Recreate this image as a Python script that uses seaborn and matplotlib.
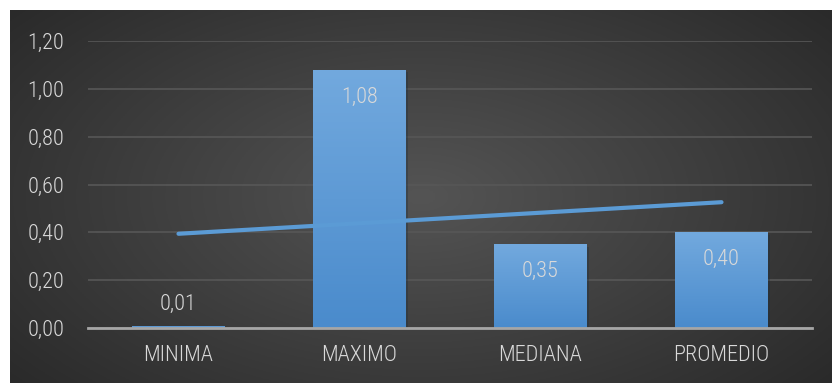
import numpy as np
import pandas as pd
import matplotlib
matplotlib.use("Agg")
import matplotlib.pyplot as plt
import matplotlib.patheffects as pe
from matplotlib import font_manager
import seaborn as sns

# data
categories = ["MINIMA", "MAXIMO", "MEDIANA", "PROMEDIO"]
values = [0.01, 1.08, 0.35, 0.40]
label_text = ["0,01", "1,08", "0,35", "0,40"]
yticks = [0.0, 0.2, 0.4, 0.6, 0.8, 1.0, 1.2]
ytick_labels = ["0,00", "0,20", "0,40", "0,60", "0,80", "1,00", "1,20"]

df = pd.DataFrame({"cat": categories, "val": values})

sns.set_theme(style="dark")

# prefer a narrow font if one is around, else plain Liberation Sans
font = "Liberation Sans"
fsize = 14
for name, size in [("Liberation Sans Narrow", 16), ("Roboto Condensed", 16),
                   ("DejaVu Sans Condensed", 13.5)]:
    try:
        font_manager.findfont(font_manager.FontProperties(family=name), fallback_to_default=False)
        font, fsize = name, size
        break
    except ValueError:
        pass
plt.rcParams["font.family"] = [font, "DejaVu Sans"]
plt.rcParams["font.weight"] = "light"

W, H = 832, 383
fig = plt.figure(figsize=(W / 100, H / 100), dpi=100, facecolor="white")

# dark radial background panel
bg = fig.add_axes([10 / W, 0, 1 - 10 / W, 1 - 10 / H])
bg.axis("off")
yy, xx = np.mgrid[0:1:200j, 0:1:400j]
r = np.sqrt(((xx - 0.5) / 0.75) ** 2 + ((yy - 0.5) / 0.9) ** 2)
shade = np.clip(0.33 - 0.19 * r, 0.13, 0.33)
bg.imshow(np.dstack([shade] * 3), extent=[0, 1, 0, 1], aspect="auto")
bg.set_xlim(0, 1)
bg.set_ylim(0, 1)

ax = fig.add_axes([88 / W, (H - 328) / H, (812 - 88) / W, (328 - 41) / H])
ax.patch.set_alpha(0)

sns.barplot(data=df, x="cat", y="val", color="#5b9bd5", width=0.51, ax=ax,
            saturation=1, linewidth=0, edgecolor="none", zorder=3)

# vertical gradient on each bar, plus a faint shadow
grad = np.linspace(0, 1, 100).reshape(-1, 1)
cmap = matplotlib.colors.LinearSegmentedColormap.from_list("b", ["#4a8bcc", "#72a9de"])
for p in ax.patches:
    p.set_path_effects([pe.SimplePatchShadow(offset=(2, -2), alpha=0.35), pe.Normal()])
    x0, w, h = p.get_x(), p.get_width(), p.get_height()
    im = ax.imshow(grad, cmap=cmap, origin="lower", aspect="auto",
                   extent=[x0, x0 + w, 0, h], zorder=3.5)
    im.set_clip_path(p)

# linear trend line
sns.regplot(x=np.arange(len(values)), y=values, scatter=False, ci=None,
            truncate=True, ax=ax, line_kws={"color": "#5b9bd5", "lw": 3, "zorder": 5})

# value labels
for i, (v, t) in enumerate(zip(values, label_text)):
    if v > 0.1:
        ax.text(i, v - 0.115, t, ha="center", va="center", color="#d9d9d9", fontsize=fsize, zorder=6)
    else:
        ax.text(i, v + 0.09, t, ha="center", va="center", color="#d9d9d9", fontsize=fsize, zorder=6)

ax.set_xlim(-0.5, 3.5)
ax.set_ylim(0, 1.2)
ax.set_yticks(yticks)
ax.set_yticklabels(ytick_labels)
ax.grid(axis="y", color="#575757", lw=1.2, zorder=0)
ax.grid(axis="x", visible=False)
ax.set_xlabel("")
ax.set_ylabel("")
for s in ["top", "right", "left"]:
    ax.spines[s].set_visible(False)
ax.spines["bottom"].set_color("#a6a6a6")
ax.spines["bottom"].set_linewidth(2)
ax.spines["bottom"].set_zorder(4)
ax.tick_params(axis="both", colors="#d9d9d9", labelsize=fsize, length=0)
ax.tick_params(axis="y", pad=17)
ax.tick_params(axis="x", pad=12)

fig.savefig("out.png", dpi=100, facecolor="white")
